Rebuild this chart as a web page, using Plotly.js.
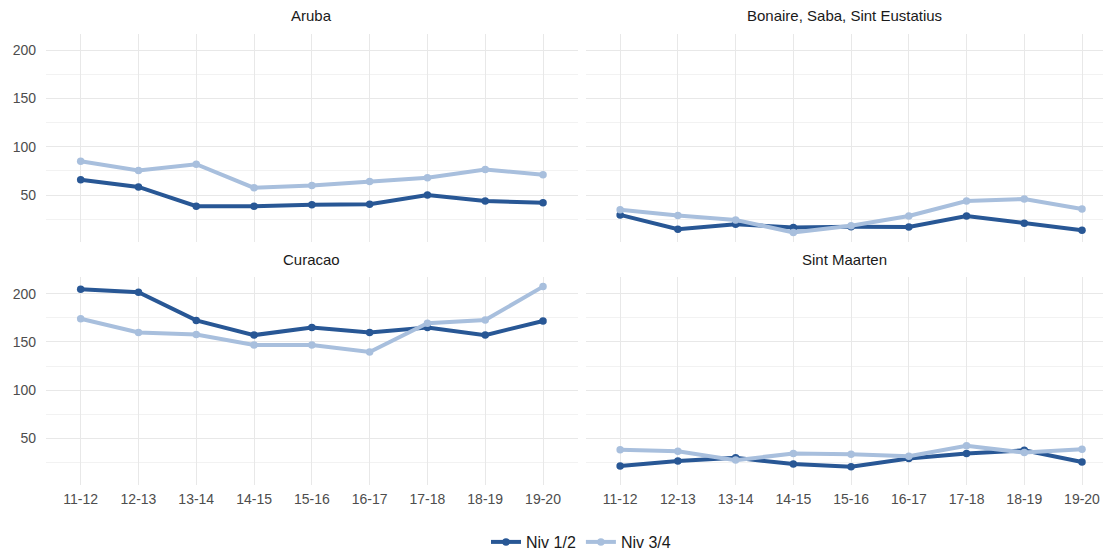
<!DOCTYPE html>
<html>
<head>
<meta charset="utf-8">
<script src="https://cdn.plot.ly/plotly-3.0.1.min.js"></script>
<style>html,body{margin:0;padding:0;background:#fff;}#chart{width:1103px;height:559px;}</style>
</head>
<body>
<div id="chart"></div>
<script>
// ---- data ----
const years = ["11-12","12-13","13-14","14-15","15-16","16-17","17-18","18-19","19-20"];
const panels = ["Aruba","Bonaire, Saba, Sint Eustatius","Curacao","Sint Maarten"];
const seriesNames = ["Niv 1/2","Niv 3/4"];
const yTicks = [50,100,150,200];

const arubaNiv12 = [66, 58.5, 38.5, 38.5, 40, 40.5, 50, 44, 42];
const arubaNiv34 = [85, 75.5, 82, 57.5, 60, 64, 68, 76.5, 71];
const bonaireNiv12 = [29.5, 14.7, 19.9, 16.4, 17.1, 17, 28.4, 20.9, 13.7];
const bonaireNiv34 = [34.9, 28.8, 24.3, 11.3, 18.2, 28.4, 43.8, 45.9, 35.6];
const curacaoNiv12 = [204.8, 201.7, 172.4, 157.1, 165, 159.9, 165, 157.1, 171.8];
const curacaoNiv34 = [174.1, 159.9, 157.8, 146.9, 146.9, 139.5, 169.4, 172.8, 207.5];
const maartenNiv12 = [21.1, 26.2, 29.6, 23.1, 20.4, 28.9, 34, 37.4, 25.2];
const maartenNiv34 = [38.1, 36.4, 27.2, 34, 33.3, 31.3, 42.2, 35, 38.4];

const panelData = [
  [arubaNiv12, arubaNiv34],
  [bonaireNiv12, bonaireNiv34],
  [curacaoNiv12, curacaoNiv34],
  [maartenNiv12, maartenNiv34]
];
const colors = ["#285795", "#a8bfdd"];

// ---- layout geometry (pixels) ----
const W = 1103, H = 559;
const colPx = [[46, 577.7], [585.5, 1103]];
const rowPx = [[34, 245], [280.7, 491]];
const xRanges = [[-0.6, 8.6], [-0.6, 8 + (1103 - 1082) / 57.75]];
const yRange = [1.5, 217.3];

const traces = [];
panelData.forEach((pd, p) => {
  const ax = p === 0 ? "" : String(p + 1);
  pd.forEach((vals, s) => {
    traces.push({
      x: years, y: vals, type: "scatter", mode: "lines+markers",
      name: seriesNames[s], legendgroup: seriesNames[s], showlegend: p === 0,
      xaxis: "x" + ax, yaxis: "y" + ax,
      line: {color: colors[s], width: 4},
      marker: {color: colors[s], size: 7.5},
      hoverinfo: "x+y+name"
    });
  });
});

const layout = {
  width: W, height: H,
  margin: {l: 0, r: 0, t: 0, b: 0},
  paper_bgcolor: "#fff", plot_bgcolor: "#fff",
  font: {family: "Liberation Sans, Arial, sans-serif", color: "#4d4d4d", size: 14},
  showlegend: true,
  legend: {orientation: "h", x: 581 / W, xanchor: "center", y: 1 - 549 / H, yanchor: "middle",
           font: {size: 16, color: "#1a1a1a"}, itemwidth: 30, tracegroupgap: 0, traceorder: "normal"},
  annotations: [],
  hovermode: "closest"
};

panels.forEach((name, p) => {
  const ax = p === 0 ? "" : String(p + 1);
  const c = p % 2, r = Math.floor(p / 2);
  const xd = [colPx[c][0] / W, colPx[c][1] / W];
  const yd = [1 - rowPx[r][1] / H, 1 - rowPx[r][0] / H];
  layout["xaxis" + ax] = {
    domain: xd, range: xRanges[c], type: "category",
    showgrid: true, gridcolor: "#e8e8e8", gridwidth: 1.3,
    zeroline: false, showline: false, ticks: "",
    showticklabels: r === 1, tickfont: {size: 14, color: "#4d4d4d"},
    anchor: "y" + ax, fixedrange: true, automargin: false, ticklabelstandoff: 4
  };
  layout["yaxis" + ax] = {
    domain: yd, range: yRange, tickvals: yTicks,
    showgrid: true, gridcolor: "#e8e8e8", gridwidth: 1.3,
    minor: {tickvals: [25, 75, 125, 175], showgrid: true, gridcolor: "#f2f2f2", gridwidth: 1},
    zeroline: false, showline: false, ticks: "",
    showticklabels: c === 0, tickfont: {size: 14, color: "#4d4d4d"},
    anchor: "x" + ax, fixedrange: true, automargin: false, ticklabelstandoff: 9
  };
  layout.annotations.push({
    text: name, xref: "paper", yref: "paper",
    x: (xd[0] + xd[1]) / 2, y: yd[1] + 18 / H,
    xanchor: "center", yanchor: "middle", showarrow: false,
    font: {size: 15, color: "#1a1a1a"}
  });
});

Plotly.newPlot("chart", traces, layout, {displayModeBar: false, staticPlot: false});
</script>
</body>
</html>
